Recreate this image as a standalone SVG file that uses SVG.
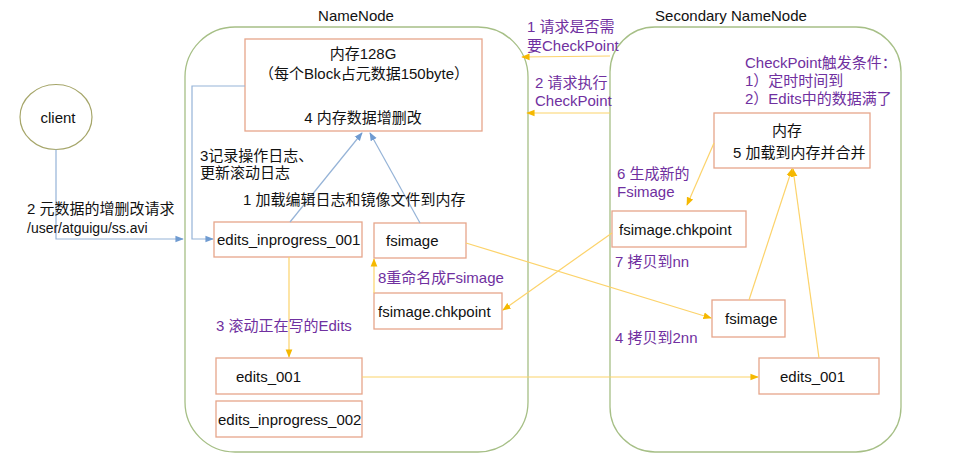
<svg xmlns="http://www.w3.org/2000/svg" width="971" height="472" viewBox="0 0 971 472">
<style>
text{font-family:"Liberation Sans","Noto Sans CJK SC",sans-serif;font-size:15px;fill:#111}
.p{fill:#7030a0}
.sm{font-size:14px}
.cont{fill:none;stroke:#a6bf86;stroke-width:1.3}
.box{fill:#fff;stroke:#e6a58a;stroke-width:1.3}
.bl{fill:none;stroke:#95b3d7;stroke-width:1.2}
.or{fill:none;stroke:#fcd36b;stroke-width:1.2}
</style>
<defs>
<marker id="ab" viewBox="0 0 10 10" refX="9" refY="5" markerWidth="7" markerHeight="7" orient="auto"><path d="M0,1 L10,5 L0,9 z" fill="#6f9bd1"/></marker>
<marker id="ao" viewBox="0 0 10 10" refX="9" refY="5" markerWidth="7" markerHeight="7" orient="auto"><path d="M0,1 L10,5 L0,9 z" fill="#f5b800"/></marker>
</defs>
<rect width="971" height="472" fill="#fff"/>
<g id="namenode">
<rect class="cont" x="185" y="27" width="343" height="425" rx="50" ry="50"/>
<text x="356" y="21" text-anchor="middle">NameNode</text>
</g>
<g id="secondary">
<rect class="cont" x="610" y="27" width="291" height="425" rx="45" ry="45"/>
<text x="731" y="21" text-anchor="middle">Secondary NameNode</text>
</g>
<g id="client">
<ellipse cx="56" cy="117" rx="36" ry="32.5" fill="#fff" stroke="#a6a66a" stroke-width="1.2"/>
<text x="58" y="123" text-anchor="middle">client</text>
</g>
<g id="nn-memory">
<rect class="box" x="245" y="39" width="237" height="92"/>
<text x="363" y="59" text-anchor="middle">内存128G</text>
<text x="364" y="79" text-anchor="middle">（每个Block占元数据150byte）</text>
<text x="363" y="123" text-anchor="middle">4 内存数据增删改</text>
</g>
<g id="nn-edits-inprogress-001">
<rect class="box" x="214" y="222" width="148" height="35"/>
<text x="217" y="245">edits_inprogress_001</text>
</g>
<g id="nn-fsimage">
<rect class="box" x="374" y="223" width="92" height="35"/>
<text x="386" y="246">fsimage</text>
</g>
<g id="nn-fsimage-chkpoint">
<rect class="box" x="374" y="293" width="128" height="36"/>
<text x="378" y="317">fsimage.chkpoint</text>
</g>
<g id="nn-edits-001">
<rect class="box" x="216" y="358" width="146" height="36"/>
<text x="236" y="382">edits_001</text>
</g>
<g id="nn-edits-inprogress-002">
<rect class="box" x="216" y="401" width="146" height="36"/>
<text x="218" y="425">edits_inprogress_002</text>
</g>
<g id="snn-memory">
<rect class="box" x="714" y="113" width="156" height="55"/>
<text x="787" y="136" text-anchor="middle">内存</text>
<text x="733" y="158">5 加载到内存并合并</text>
</g>
<g id="snn-fsimage-chkpoint">
<rect class="box" x="612" y="211" width="134" height="36"/>
<text x="619" y="235">fsimage.chkpoint</text>
</g>
<g id="snn-fsimage">
<rect class="box" x="712" y="300" width="73" height="37"/>
<text x="725" y="324">fsimage</text>
</g>
<g id="snn-edits-001">
<rect class="box" x="759" y="358" width="120" height="36"/>
<text x="780" y="382">edits_001</text>
</g>
<g id="connectors">
<polyline class="bl" points="56,149.5 56,239 183,239" marker-end="url(#ab)"/>
<polyline class="bl" points="245,86 192,86 192,239 213,239" marker-end="url(#ab)"/>
<line class="bl" x1="290" y1="222" x2="362" y2="133" marker-end="url(#ab)"/>
<line class="bl" x1="420" y1="223" x2="370" y2="133" marker-end="url(#ab)"/>
<line class="or" x1="610" y1="56" x2="522" y2="57" marker-end="url(#ao)"/>
<line class="or" x1="610" y1="113" x2="527" y2="113" marker-end="url(#ao)"/>
<line class="or" x1="374" y1="293" x2="374" y2="259" marker-end="url(#ao)"/>
<line class="or" x1="289" y1="257" x2="289" y2="357" marker-end="url(#ao)"/>
<line class="or" x1="612" y1="233" x2="503" y2="310" marker-end="url(#ao)"/>
<line class="or" x1="466" y1="243" x2="711" y2="318" marker-end="url(#ao)"/>
<line class="or" x1="362" y1="377" x2="758" y2="377" marker-end="url(#ao)"/>
<line class="or" x1="714" y1="143" x2="687" y2="205" marker-end="url(#ao)"/>
<line class="or" x1="749" y1="300" x2="792" y2="169" marker-end="url(#ao)"/>
<line class="or" x1="819" y1="358" x2="793" y2="169" marker-end="url(#ao)"/>
</g>
<g id="labels">
<text x="27" y="214">2 元数据的增删改请求</text>
<text x="27" y="233" class="sm">/user/atguigu/ss.avi</text>
<text x="200" y="161">3记录操作日志、</text>
<text x="200" y="178">更新滚动日志</text>
<text x="243" y="205">1 加载编辑日志和镜像文件到内存</text>
<text x="378" y="283" class="p">8重命名成Fsimage</text>
<text x="216" y="331" class="p">3 滚动正在写的Edits</text>
<text x="527" y="32" class="p">1 请求是否需</text>
<text x="527" y="51" class="p">要CheckPoint</text>
<text x="535" y="88" class="p">2 请求执行</text>
<text x="535" y="106" class="p">CheckPoint</text>
<text x="745" y="68" class="p">CheckPoint触发条件：</text>
<text x="745" y="86" class="p">1）定时时间到</text>
<text x="745" y="104" class="p">2）Edits中的数据满了</text>
<text x="617" y="179" class="p">6 生成新的</text>
<text x="617" y="197" class="p">Fsimage</text>
<text x="615" y="267" class="p">7 拷贝到nn</text>
<text x="615" y="343" class="p">4 拷贝到2nn</text>
</g>
</svg>
